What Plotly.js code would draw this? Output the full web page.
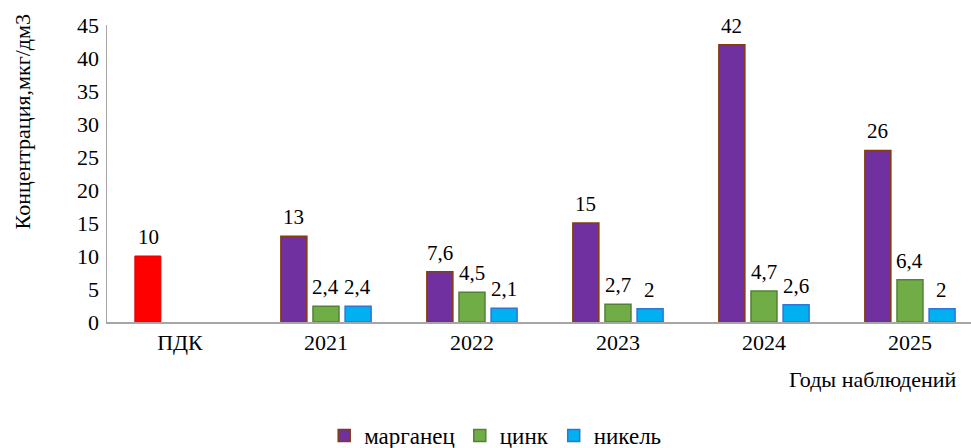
<!DOCTYPE html>
<html>
<head>
<meta charset="utf-8">
<script src="https://cdn.plot.ly/plotly-3.0.1.min.js"></script>
<style>html,body{margin:0;padding:0;background:#fff;}#chart{width:971px;height:448px;}</style>
</head>
<body>
<div id="chart"></div>
<script>
// Data
var categories = ['ПДК', '2021', '2022', '2023', '2024', '2025'];
var pdkValues = [10, null, null, null, null, null];
var manganese = [null, 13, 7.6, 15, 42, 26];
var zinc = [null, 2.4, 4.5, 2.7, 4.7, 6.4];
var nickel = [null, 2.4, 2.1, 2, 2.6, 2];
var seriesNames = ['марганец', 'цинк', 'никель'];
var yTicks = [0, 5, 10, 15, 20, 25, 30, 35, 40, 45];

var FONT = '"Liberation Serif", "Times New Roman", serif';

function fmt(v) { return String(v).replace('.', ','); }

var traces = [
  {type: 'bar', x: categories, y: pdkValues, name: 'ПДК', showlegend: false, offsetgroup: 'a',
   marker: {color: '#FF0000', line: {color: '#E00000', width: 1}}, hoverinfo: 'skip'},
  {type: 'bar', x: categories, y: manganese, name: seriesNames[0], offsetgroup: 'a',
   marker: {color: '#7030A0', line: {color: '#843C0C', width: 1.5}}},
  {type: 'bar', x: categories, y: zinc, name: seriesNames[1], offsetgroup: 'b',
   marker: {color: '#70AD47', line: {color: '#548235', width: 1.5}}},
  {type: 'bar', x: categories, y: nickel, name: seriesNames[2], offsetgroup: 'c',
   marker: {color: '#00B0F0', line: {color: '#2E75D6', width: 1.5}}}
];

var annotations = [];
function addLabels(vals, shift) {
  vals.forEach(function (v, i) {
    if (v === null) return;
    annotations.push({x: i, y: v, xref: 'x', yref: 'y', text: fmt(v), showarrow: false,
      xanchor: 'center', yanchor: 'bottom', xshift: shift, yshift: 5,
      font: {family: FONT, size: 21, color: '#000'}});
  });
}
addLabels(pdkValues, -32);
addLabels(manganese, -32);
addLabels(zinc, 0);
addLabels(nickel, 32);

annotations.push({xref: 'paper', yref: 'paper', x: -0.098, y: 0.673, text: 'Концентрация,мкг/дм3',
  textangle: -90, showarrow: false, xanchor: 'center', yanchor: 'middle',
  font: {family: FONT, size: 22, color: '#000'}});
annotations.push({xref: 'paper', yref: 'paper', x: 0.986, y: -0.195, text: 'Годы наблюдений',
  showarrow: false, xanchor: 'right', yanchor: 'middle',
  font: {family: FONT, size: 22, color: '#000'}});

var layout = {
  width: 971, height: 448,
  margin: {l: 107, r: 0, t: 25, b: 126},
  paper_bgcolor: '#fff', plot_bgcolor: '#fff',
  barmode: 'group', bargap: 0.34, bargroupgap: 0.19,
  font: {family: FONT, color: '#000'},
  xaxis: {type: 'category', range: [-0.5, 5.418], showline: true, linecolor: '#A6A6A6', linewidth: 2,
    showgrid: false, zeroline: false, ticks: '', tickfont: {family: FONT, size: 22, color: '#000'}},
  yaxis: {range: [0, 45], tickvals: yTicks, ticktext: yTicks.map(String), showline: true, linecolor: '#A6A6A6',
    linewidth: 1.5, showgrid: false, zeroline: false, ticks: '', ticklabelstandoff: 2,
    tickfont: {family: FONT, size: 22, color: '#000'}},
  showlegend: true,
  legend: {orientation: 'h', xref: 'container', yref: 'container', x: 0.51, y: 0.028,
    xanchor: 'center', yanchor: 'middle', font: {family: FONT, size: 23, color: '#000'},
    itemwidth: 30, traceorder: 'normal'},
  annotations: annotations
};

Plotly.newPlot('chart', traces, layout, {displayModeBar: false, staticPlot: true});
</script>
</body>
</html>
